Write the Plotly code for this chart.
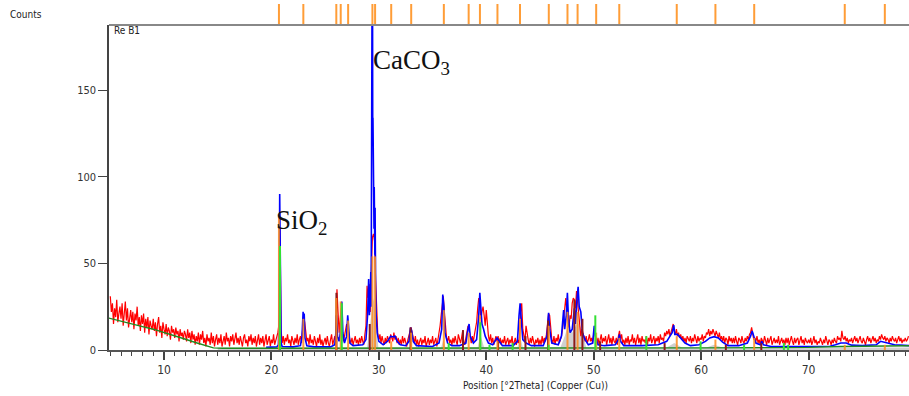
import numpy as np
import plotly.graph_objects as go

# ---------------- data ----------------
scan_start = 5.0
scan_step = 0.1
# observed counts, one row per degree (x.0 .. x.9)
obs_rows = [
    [31, 22, 27, 15, 24, 19, 29, 16, 21, 25],   # 5
    [18, 27, 14, 22, 28, 17, 24, 13, 20, 23],   # 6
    [16, 22, 12, 21, 17, 25, 14, 19, 11, 20],   # 7
    [15, 21, 10, 18, 13, 19, 9, 17, 14, 12],    # 8
    [18, 11, 16, 8, 15, 19, 10, 14, 7, 16],     # 9
    [12, 9, 15, 8, 13, 11, 6, 14, 10, 12],      # 10
    [7, 13, 9, 11, 5, 12, 8, 10, 6, 11],        # 11
    [9, 5, 12, 7, 10, 4, 11, 6, 9, 3],          # 12
    [8, 5, 10, 3, 9, 6, 11, 4, 7, 2],           # 13
    [9, 5, 7, 3, 10, 4, 8, 2, 6, 9],            # 14
    [3, 7, 4, 9, 2, 6, 8, 3, 10, 5],            # 15
    [7, 2, 8, 5, 9, 3, 6, 10, 4, 7],            # 16
    [3, 8, 5, 2, 7, 9, 4, 6, 2, 8],             # 17
    [5, 9, 3, 7, 4, 8, 2, 6, 9, 3],             # 18
    [7, 4, 8, 2, 6, 9, 3, 5, 8, 2],             # 19
    [6, 4, 9, 3, 5, 7, 10, 15, 70, 12],         # 20
    [4, 8, 3, 7, 5, 9, 4, 6, 2, 8],             # 21
    [5, 3, 7, 4, 9, 3, 6, 8, 4, 12],            # 22
    [19, 16, 8, 5, 7, 3, 9, 4, 6, 3],           # 23
    [8, 5, 2, 7, 4, 9, 3, 6, 2, 5],             # 24
    [7, 3, 8, 4, 2, 6, 9, 3, 5, 8],             # 25
    [4, 35, 22, 10, 18, 24, 9, 5, 8, 11],       # 26
    [15, 13, 8, 6, 4, 7, 3, 5, 8, 4],           # 27
    [6, 3, 7, 4, 8, 5, 3, 9, 14, 37],           # 28
    [30, 38, 22, 45, 65, 67, 63, 40, 18, 9],    # 29
    [6, 9, 4, 8, 5, 3, 7, 4, 8, 5],             # 30
    [4, 9, 7, 5, 10, 6, 8, 4, 7, 3],            # 31
    [6, 3, 8, 4, 7, 5, 2, 6, 9, 12],            # 32
    [13, 10, 7, 4, 8, 3, 6, 2, 5, 7],           # 33
    [3, 6, 4, 8, 2, 5, 7, 3, 6, 4],             # 34
    [8, 3, 5, 7, 2, 6, 9, 14, 20, 28],          # 35
    [31, 22, 12, 7, 5, 8, 4, 6, 3, 7],          # 36
    [4, 8, 5, 3, 9, 6, 4, 7, 11, 5],            # 37
    [3, 7, 10, 14, 12, 6, 4, 8, 5, 9],          # 38
    [12, 16, 24, 30, 27, 18, 22, 25, 20, 14],   # 39
    [23, 12, 8, 5, 9, 4, 7, 3, 6, 8],           # 40
    [5, 8, 4, 7, 3, 6, 4, 8, 3, 5],             # 41
    [7, 3, 6, 4, 8, 2, 5, 7, 3, 6],             # 42
    [4, 8, 22, 27, 12, 8, 5, 14, 9, 6],         # 43
    [3, 7, 4, 8, 5, 2, 6, 4, 7, 3],             # 44
    [6, 3, 8, 4, 7, 5, 9, 14, 21, 20],          # 45
    [10, 6, 4, 8, 3, 7, 5, 9, 4, 6],            # 46
    [8, 12, 18, 25, 30, 22, 17, 13, 20, 18],    # 47
    [27, 30, 29, 24, 34, 27, 20, 14, 8, 12],    # 48
    [10, 7, 5, 8, 4, 6, 9, 5, 7, 4],            # 49
    [8, 14, 6, 4, 7, 3, 6, 9, 4, 7],            # 50
    [5, 8, 3, 6, 9, 4, 7, 3, 8, 5],             # 51
    [4, 7, 3, 8, 11, 6, 9, 4, 6, 3],            # 52
    [7, 4, 8, 3, 6, 5, 9, 4, 7, 3],             # 53
    [6, 9, 4, 7, 3, 8, 5, 6, 4, 8],             # 54
    [3, 7, 5, 9, 4, 6, 8, 3, 7, 5],             # 55
    [8, 4, 9, 6, 7, 5, 10, 8, 11, 9],           # 56
    [12, 8, 10, 13, 15, 11, 9, 12, 8, 10],      # 57
    [7, 9, 6, 8, 5, 7, 4, 8, 6, 5],             # 58
    [8, 4, 7, 5, 9, 6, 4, 8, 5, 7],             # 59
    [6, 9, 5, 8, 7, 10, 9, 12, 8, 11],          # 60
    [9, 12, 10, 8, 11, 9, 7, 10, 6, 8],         # 61
    [5, 8, 4, 7, 6, 3, 8, 5, 7, 4],             # 62
    [7, 4, 8, 5, 3, 7, 6, 4, 8, 5],             # 63
    [4, 7, 5, 8, 6, 9, 10, 13, 9, 6],           # 64
    [7, 5, 8, 4, 6, 3, 7, 5, 4, 8],             # 65
    [5, 3, 7, 4, 6, 8, 3, 5, 7, 4],             # 66
    [6, 4, 8, 3, 5, 7, 4, 6, 3, 7],             # 67
    [4, 7, 3, 6, 8, 5, 3, 7, 4, 6],             # 68
    [7, 3, 5, 8, 4, 6, 3, 7, 5, 4],             # 69
    [6, 4, 7, 3, 5, 8, 4, 6, 3, 5],             # 70
    [4, 7, 5, 3, 6, 4, 8, 5, 3, 6],             # 71
    [5, 3, 6, 4, 7, 5, 4, 8, 6, 7],             # 72
    [5, 11, 7, 6, 8, 5, 7, 4, 6, 5],            # 73
    [7, 4, 6, 8, 5, 7, 4, 6, 8, 5],             # 74
    [4, 7, 5, 3, 6, 8, 5, 7, 4, 6],             # 75
    [8, 5, 7, 4, 6, 5, 8, 6, 9, 7],             # 76
    [6, 8, 5, 7, 6, 4, 7, 5, 8, 6],             # 77
    [5, 7, 4, 6, 8, 5, 7, 4, 6, 5],             # 78
    [7, 5, 6, 8],                                # 79
]

calc_pos = [19.5, 20.5, 20.65, 20.72, 20.77, 20.82, 20.9, 21.0, 22.0, 22.7, 22.85, 22.95, 23.0, 23.05, 23.12,
            23.3, 24.0, 25.5, 25.9, 26.0, 26.05, 26.15, 26.3, 26.45, 26.55, 26.65, 26.8, 27.0, 27.1, 27.2,
            27.3, 27.6, 28.5, 28.8, 28.95, 29.05, 29.12, 29.2, 29.25, 29.28, 29.3, 29.33, 29.35, 29.37,
            29.39, 29.41, 29.43, 29.45, 29.47, 29.49, 29.51, 29.53, 29.55, 29.57, 29.59, 29.61, 29.63,
            29.65, 29.67, 29.7, 29.75, 29.85, 30.0, 30.4, 30.8, 31.1, 31.3, 31.5, 31.7, 32.0, 32.5, 32.8, 32.95,
            33.05, 33.2, 33.5, 35.0, 35.6, 35.85, 35.95, 36.05, 36.15, 36.4, 36.8, 37.5, 38.1, 38.3, 38.4,
            38.5, 38.8, 39.1, 39.3, 39.4, 39.5, 39.6, 39.75, 39.9, 40.2, 40.6, 41.0, 41.2, 41.5, 42.5,
            42.9, 43.05, 43.15, 43.25, 43.4, 43.7, 44.2, 45.3, 45.65, 45.8, 45.9, 46.1, 46.7, 47.0, 47.2,
            47.3, 47.45, 47.55, 47.65, 47.8, 48.0, 48.2, 48.3, 48.45, 48.55, 48.65, 48.8, 48.95, 49.2, 49.5,
            49.9, 50.05, 50.15, 50.4, 51.0, 52.0, 52.3, 52.4, 52.5, 52.8, 54.5, 56.0, 56.8, 57.1, 57.3,
            57.45, 57.55, 57.8, 58.1, 58.5, 59.0, 59.8, 60.4, 60.8, 61.2, 61.6, 62.0, 62.5, 63.5, 64.3,
            64.6, 64.75, 64.9, 65.1, 65.5, 65.65, 65.8, 66.5, 69.0, 72.0, 72.5, 73.0, 73.5, 74.0, 75.0,
            76.3, 76.7, 77.1, 77.5, 78.0, 79.4]
calc_counts = [1.5, 1.8, 3, 20, 90, 25, 4, 2, 1.8, 2.5, 8, 22, 14, 21, 7,
               2.5, 1.8, 1.8, 3, 10, 20, 8, 5, 12, 28, 10, 4, 8, 20, 12,
               4, 2.5, 3, 6, 20, 41, 20, 30, 45, 25, 60, 210, 140, 210,
               160, 210, 120, 134, 100, 134, 80, 94, 70, 94, 60, 82, 55,
               82, 40, 35, 20, 10, 5, 3, 5, 8, 7.5, 8, 5, 3, 2.5, 5, 13,
               11, 5, 2.5, 2, 4, 12, 32, 25, 10, 4, 2.5, 2.5, 4, 12, 15,
               8, 4, 6, 20, 33, 25, 15, 12, 8, 4, 3, 7, 5, 2.5, 2.5,
               5, 20, 27, 18, 6, 4, 2.5, 2.5, 8, 21.5, 12, 4, 3, 8, 23,
               12, 20, 33, 18, 10, 12, 24, 15, 30, 36.5, 25, 22, 10, 6, 3,
               4, 14, 8, 3, 2.5, 3, 6, 9, 5, 2.5, 2.5, 3, 5, 8, 10,
               14.4, 9, 9, 7, 4, 2.5, 3, 5, 7, 7.7, 7, 4.5, 2.5, 2.5, 4,
               8, 11, 8, 4, 3, 5, 3, 2, 2, 2.2, 3, 4, 4, 2.8, 2.5,
               3, 5, 4.5, 4, 3, 2.5]

bkg_pos = [4.8, 6, 7, 8, 9, 10, 11, 12, 13, 14, 14.6, 15.5, 20, 30, 40, 50, 60, 70, 73, 79.4]
bkg_counts = [18.5, 16.5, 15, 13.5, 12, 10.2, 8.2, 6.2, 4.2, 2.2, 1.2, 1, 1, 1, 1, 1, 1.2, 1.5, 2, 2.5]

gray_pos = [15, 20.6, 20.8, 21.0, 28.9, 29.1, 29.35, 29.5, 29.7, 29.95, 35.8, 36.0, 36.2, 39.2, 39.45, 39.8,
            42.9, 43.15, 43.4, 46.9, 47.3, 47.6, 48.0, 48.5, 48.9, 49.3, 56.8, 57.5, 58.2, 60.5, 61.2, 62.0, 79.4]
gray_counts = [1.5, 1.5, 8, 1.5, 1.5, 12, 25, 30, 20, 1.5, 1.5, 6, 1.5, 1.5, 9, 1.5,
               1.5, 8, 1.5, 1.5, 8, 14, 10, 16, 12, 1.5, 1.5, 4, 1.5, 1.5, 3, 1.5, 1.5]

# reference peak list (orange) - also shown in the top strip
ref_pos = [20.70, 22.97, 26.04, 26.45, 27.14, 29.40, 29.65, 31.15, 33.01, 36.05, 38.36, 39.41,
           41.04, 43.14, 45.82, 47.56, 48.50, 50.23, 52.38, 57.73, 61.33, 64.94, 73.37, 77.10]
ref_h = [77, 18, 30, 28, 17, 54, 54, 5, 10, 23, 10, 20,
         5, 18, 14, 22, 22, 10, 7, 8, 6, 7, 3, 3]

quartz_pos = [20.80, 26.55, 36.5, 39.45, 40.3, 42.45, 45.8, 50.15, 54.9, 59.95, 64.0, 67.7, 68.1]
quartz_h = [60, 27, 4, 16, 3, 4, 3, 20, 8, 5, 3, 4, 3]

other_pos = [26.05, 29.15, 32.95, 37.83, 41.1, 43.65, 45.75, 48.2, 48.95, 50.6, 56.6, 62.3, 65.6]
other_h = [33, 15, 13, 11.5, 5, 8, 17, 29, 18, 5, 4, 3, 4]

x_ticks = [10, 20, 30, 40, 50, 60, 70]
y_ticks = [0, 50, 100, 150]

# ---------------- build ----------------
obs_counts = [v for row in obs_rows for v in row]
obs_pos = [round(scan_start + scan_step * i, 2) for i in range(len(obs_counts))]


def stick_xy(pos, h):
    xs, ys = [], []
    for p, v in zip(pos, h):
        xs += [p, p, None]
        ys += [0, v, None]
    return xs, ys


fig = go.Figure()

fig.add_trace(go.Scatter(x=gray_pos, y=gray_counts, mode="lines", fill="tozeroy",
                         line=dict(color="rgba(190,190,190,1)", width=0),
                         fillcolor="rgba(205,205,205,0.95)", hoverinfo="skip"))
fig.add_trace(go.Scatter(x=obs_pos, y=obs_counts, mode="lines",
                         line=dict(color="#ff0000", width=1.2)))
fig.add_trace(go.Scatter(x=calc_pos, y=calc_counts, mode="lines",
                         line=dict(color="#0000ff", width=1.6)))
fig.add_trace(go.Scatter(x=bkg_pos, y=bkg_counts, mode="lines",
                         line=dict(color="#1f8a1f", width=1.4)))

sx, sy = stick_xy(other_pos, other_h)
fig.add_trace(go.Scatter(x=sx, y=sy, mode="lines", line=dict(color="#8b1a1a", width=2)))
sx, sy = stick_xy(ref_pos, ref_h)
fig.add_trace(go.Scatter(x=sx, y=sy, mode="lines", line=dict(color="rgba(255,140,30,0.85)", width=2)))
sx, sy = stick_xy(quartz_pos, quartz_h)
fig.add_trace(go.Scatter(x=sx, y=sy, mode="lines", line=dict(color="#33e033", width=2)))

# top strip with peak markers
tx, ty = [], []
for p in ref_pos:
    tx += [p, p, None]
    ty += [0, 0.84, None]
fig.add_trace(go.Scatter(x=tx, y=ty, mode="lines", yaxis="y2",
                         line=dict(color="rgba(255,140,20,0.85)", width=2)))

main_top = 325 / 350
font_fam = "Liberation Sans Narrow, DejaVu Sans Condensed, Liberation Sans, sans-serif"
tick_font = dict(family=font_fam, size=12, color="#333")

fig.update_layout(
    width=909, height=396,
    margin=dict(l=109, r=0, t=0, b=46),
    paper_bgcolor="white", plot_bgcolor="white",
    showlegend=False,
    xaxis=dict(range=[4.88, 79.35], tickvals=x_ticks, ticks="outside", ticklen=8, tickwidth=1.5,
               tickcolor="#444", showline=True, linecolor="#555", linewidth=2,
               showgrid=False, zeroline=False, tickfont=tick_font,
               minor=dict(dtick=1, tick0=0, ticks="outside", ticklen=4, tickcolor="#444", tickwidth=1.2)),
    yaxis=dict(domain=[0, main_top], range=[0, 187.5], tickvals=y_ticks, ticks="outside",
               ticklen=9, tickwidth=1.2, tickcolor="#444", showline=True, linecolor="#444",
               linewidth=1.5, showgrid=False, zeroline=False,
               tickfont=dict(family=font_fam, size=11, color="#333")),
    yaxis2=dict(domain=[main_top, 1], range=[0, 1], visible=False, anchor="x"),
    shapes=[dict(type="line", xref="paper", yref="paper", x0=0, x1=1, y0=main_top, y1=main_top,
                 line=dict(color="#888", width=2))],
    annotations=[
        dict(text="Counts", xref="paper", yref="paper", x=(8 - 109) / 800, y=(350 - 15) / 350,
             xanchor="left", yanchor="middle", showarrow=False,
             font=dict(family=font_fam, size=10, color="#222")),
        dict(text="Re B1", xref="paper", yref="paper", x=3 / 800, y=(350 - 31) / 350,
             xanchor="left", yanchor="middle", showarrow=False,
             font=dict(family=font_fam, size=10, color="#222")),
        dict(text="Position [°2Theta] (Copper (Cu))", xref="paper", yref="paper",
             x=(535 - 109) / 800, y=(350 - 386) / 350, xanchor="center", yanchor="middle",
             showarrow=False, font=dict(family=font_fam, size=10, color="#222")),
        dict(text="SiO<sub>2</sub>", xref="x", yref="y", x=22.8, y=74, xanchor="center",
             yanchor="middle", showarrow=False,
             font=dict(family="Liberation Serif, Times New Roman, serif", size=27, color="#111")),
        dict(text="CaCO<sub>3</sub>", xref="x", yref="y", x=33.0, y=166, xanchor="center",
             yanchor="middle", showarrow=False,
             font=dict(family="Liberation Serif, Times New Roman, serif", size=27, color="#111")),
    ],
)

fig.write_html("out.html", config={"displayModeBar": False},
               post_script="document.body.style.margin='0px';")
